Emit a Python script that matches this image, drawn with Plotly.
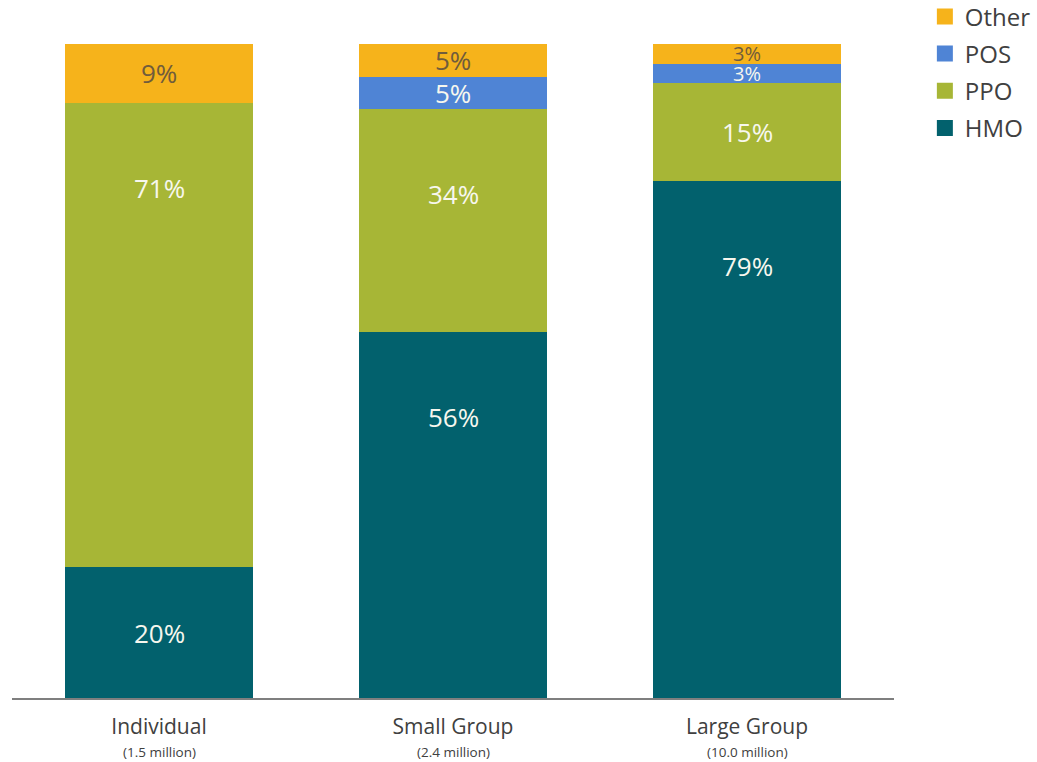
import plotly.graph_objects as go

categories = ["Individual", "Small Group", "Large Group"]
sublabels = ["(1.5 million)", "(2.4 million)", "(10.0 million)"]
series_names = ["HMO", "PPO", "POS", "Other"]
hmo = [20, 56, 79]
ppo = [71, 34, 15]
pos = [0, 5, 3]
other = [9, 5, 3]

series_values = [hmo, ppo, pos, other]
colors = {"HMO": "#02616D", "PPO": "#A7B636", "POS": "#4F84D5", "Other": "#F6B31B"}
label_colors = {"HMO": "#F7F7EE", "PPO": "#F7F7EE", "POS": "#F7F7EE", "Other": "#705C3C"}
FONT = "Open Sans"

fig = go.Figure()
for name, vals in zip(series_names, series_values):
    fig.add_trace(go.Bar(
        x=categories, y=vals, name=name,
        marker=dict(color=colors[name], line=dict(width=0)),
        width=0.64, showlegend=False, hoverinfo="x+y+name",
    ))

# legend proxies (larger square swatches), top-to-bottom: Other, POS, PPO, HMO
for name in reversed(series_names):
    fig.add_trace(go.Scatter(
        x=[None], y=[None], mode="markers", name=name, legendgroup=name,
        marker=dict(symbol="square", size=16, color=colors[name]),
        showlegend=True,
    ))

# segment labels
annotations = []
for ci, cat in enumerate(categories):
    base = 0
    for name, vals in zip(series_names, series_values):
        v = vals[ci]
        if v > 0:
            top = base + v
            ypos = top - min(v / 2.0, 13)
            annotations.append(dict(
                x=cat, y=ypos, xref="x", yref="y", text=f"{v}%",
                showarrow=False,
                font=dict(family=FONT, size=26 if v > 3 else 20, color=label_colors[name]),
            ))
        base += v

# category sub-labels under the tick labels
for cat, sub in zip(categories, sublabels):
    annotations.append(dict(
        x=cat, y=0, xref="x", yref="y", text=sub, showarrow=False,
        yanchor="top", yshift=-43,
        font=dict(family=FONT, size=13.5, color="#404040"),
    ))

fig.update_layout(
    barmode="stack",
    width=1037, height=762,
    margin=dict(l=12, r=143, t=44, b=64, autoexpand=False),
    paper_bgcolor="white", plot_bgcolor="white",
    font=dict(family=FONT, color="#404040"),
    annotations=annotations,
    legend=dict(
        x=1.035, y=1.076, xanchor="left", yanchor="top",
        font=dict(family=FONT, size=24, color="#404040"),
        itemsizing="trace", tracegroupgap=3, traceorder="grouped",
        bgcolor="rgba(0,0,0,0)",
    ),
    xaxis=dict(
        range=[-0.5, 2.5], tickmode="array", tickvals=categories, ticktext=categories,
        tickfont=dict(family=FONT, size=21, color="#404040"),
        showline=True, linecolor="#7F7F7F", linewidth=2,
        showgrid=False, ticks="", zeroline=False, ticklabelstandoff=9,
    ),
    yaxis=dict(
        range=[0, 100], visible=False, showgrid=False, zeroline=False,
    ),
)

fig.write_html(
    "out.html",
    config={"displayModeBar": False},
    post_script="document.body.style.margin='0';document.body.style.overflow='hidden';",
)
